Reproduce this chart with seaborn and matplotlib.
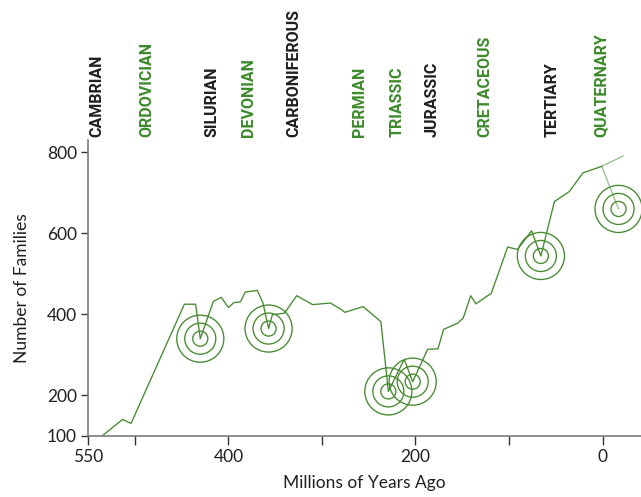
import matplotlib
matplotlib.use("Agg")
import matplotlib.pyplot as plt
import seaborn as sns
import pandas as pd

# -----------------------------
# Data
# -----------------------------
years_ago = [535, 513, 504, 447, 435, 430, 416, 407.5, 400, 394, 387, 382, 369, 363,
             357, 353, 340, 327, 310, 291, 280, 275.5, 256, 237, 229, 212, 203, 187,
             176, 170, 155, 149, 141, 135.5, 119, 101.5, 91, 76, 66, 51.6, 35.5, 21, 1]
families = [100, 141, 131, 425, 425, 340, 432, 442, 417, 429, 431, 455, 459, 428,
            365, 399, 403, 446, 424, 428, 413, 405, 419, 382, 210, 289, 234, 314,
            315, 363, 378, 391, 446, 426, 452, 566, 560, 606, 544, 678, 703, 749, 765]

# faint extension past the present and pointer to the last target
ext_years = [1, -22]
ext_families = [765, 791]
ptr_years = [1, -17]
ptr_families = [765, 660]

# extinction "targets"
target_years = [430, 357, 229, 203, 66, -17]
target_families = [340, 365, 210, 234, 544, 660]

periods = ["CAMBRIAN", "ORDOVICIAN", "SILURIAN", "DEVONIAN", "CARBONIFEROUS",
           "PERMIAN", "TRIASSIC", "JURASSIC", "CRETACEOUS", "TERTIARY", "QUATERNARY"]
period_pos = [540, 487, 417, 378.6, 330, 259.4, 219.3, 182.6, 125.5, 54.4, 2.3]
period_green = [False, True, False, True, False, True, True, False, True, False, True]

x_ticks = [550, 500, 400, 300, 200, 100, 0]
x_ticklabels = ["550", "", "400", "", "200", "", "0"]
y_ticks = [100, 200, 400, 600, 800]

GREEN = "#46892f"
TEXT_GREEN = "#3d8a2c"
DARK = "#231f20"

sns.set_style("ticks")
plt.rcParams["font.family"] = ["Lato", "DejaVu Sans"]

fig = plt.figure(figsize=(6.41, 4.97), dpi=100)
ax = fig.add_axes([88 / 641, 1 - 436 / 497, 1 - 88 / 641, (436 - 140) / 497])

df = pd.DataFrame({"year": years_ago, "families": families})
sns.lineplot(data=df, x="year", y="families", sort=False, color=GREEN,
             linewidth=0.95, ax=ax)
sns.lineplot(x=ext_years, y=ext_families, sort=False, color=GREEN, alpha=0.55,
             linewidth=0.95, ax=ax)
sns.lineplot(x=ptr_years, y=ptr_families, sort=False, color=GREEN, alpha=0.55,
             linewidth=0.95, ax=ax)

# concentric rings
for s in [1150, 500, 118]:
    sns.scatterplot(x=target_years, y=target_families, s=s, marker="o",
                    facecolor="none", edgecolor=GREEN, linewidth=0.95, ax=ax,
                    zorder=3)

ax.set_xlim(550, -41)
ax.set_ylim(100, 830)
ax.set_xticks(x_ticks)
ax.set_xticklabels(x_ticklabels)
ax.set_yticks(y_ticks)
ax.tick_params(axis="x", length=6.5, width=1, color="#333333", labelsize=12.5,
               labelcolor=DARK, pad=3)
ax.tick_params(axis="y", length=5, width=1, color="#333333", labelsize=12.5,
               labelcolor=DARK, pad=3)
for side in ["top", "right"]:
    ax.spines[side].set_visible(False)
for side in ["left", "bottom"]:
    ax.spines[side].set_color("#7a7a7a")
    ax.spines[side].set_linewidth(1.2)

ax.set_xlabel("Millions of Years Ago", fontsize=12.5, color=DARK, labelpad=7)
ax.set_ylabel("Number of Families", fontsize=12.5, color=DARK, labelpad=12)

# period names along the top
trans = ax.get_xaxis_transform()
for name, pos, g in zip(periods, period_pos, period_green):
    ax.text(pos, 1.01, name, transform=trans, rotation=90, ha="center",
            va="bottom", fontsize=11.5, fontweight="bold",
            family=["Roboto", "DejaVu Sans"],
            color=TEXT_GREEN if g else DARK, clip_on=False)

fig.savefig("out.png", dpi=100)
